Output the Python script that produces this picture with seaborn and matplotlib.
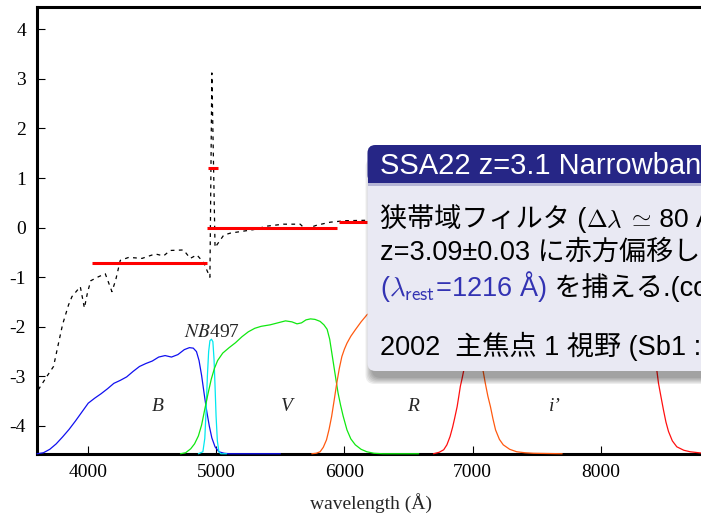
import matplotlib
matplotlib.use("Agg")
import matplotlib.pyplot as plt
import seaborn as sns
import pandas as pd
from matplotlib.patches import FancyBboxPatch, Rectangle
from matplotlib.transforms import IdentityTransform

# ---------------------------------------------------------------- data
# Filter transmission curves, drawn in the lower part of the panel
b_wl = [3600, 3650, 3700, 3750, 3800, 3850, 3900, 3950, 4000, 4050, 4100,
        4150, 4200, 4250, 4300, 4350, 4400, 4450, 4500, 4550, 4600, 4650,
        4700, 4750, 4790, 4820, 4845, 4865, 4885, 4905, 4925, 4945, 4965,
        4990, 5020, 5060, 5100, 5500]
b_lv = [-4.56, -4.54, -4.47, -4.36, -4.22, -4.07, -3.90, -3.72, -3.54, -3.44,
        -3.35, -3.25, -3.14, -3.08, -3.01, -2.90, -2.80, -2.74, -2.69, -2.61,
        -2.58, -2.61, -2.56, -2.46, -2.42, -2.43, -2.50, -2.68, -2.98, -3.35,
        -3.70, -4.00, -4.24, -4.42, -4.52, -4.55, -4.56, -4.56]

nb_wl = [4860, 4895, 4910, 4920, 4930, 4940, 4950, 4962, 4973, 4982, 4990,
         4998, 5008, 5020, 5035, 5080]
nb_lv = [-4.56, -4.52, -4.25, -3.70, -3.00, -2.50, -2.28, -2.25, -2.30, -2.65,
         -3.20, -3.80, -4.30, -4.52, -4.56, -4.56]

v_wl = [4720, 4760, 4800, 4830, 4860, 4885, 4910, 4935, 4960, 4985, 5010,
        5050, 5100, 5150, 5200, 5250, 5300, 5350, 5420, 5480, 5540, 5590,
        5630, 5665, 5700, 5735, 5770, 5810, 5840, 5865, 5885, 5900, 5915,
        5930, 5950, 5970, 5990, 6020, 6050, 6085, 6130, 6175, 6230, 6300, 6580]
v_lv = [-4.56, -4.54, -4.46, -4.36, -4.20, -3.98, -3.66, -3.35, -3.06, -2.84,
        -2.68, -2.53, -2.42, -2.32, -2.20, -2.10, -2.03, -1.99, -1.96, -1.92,
        -1.88, -1.90, -1.94, -1.92, -1.86, -1.84, -1.85, -1.89, -1.96, -2.05,
        -2.25, -2.50, -2.75, -3.00, -3.33, -3.58, -3.80, -4.08, -4.26, -4.38,
        -4.47, -4.52, -4.55, -4.56, -4.56]

r_wl = [5745, 5780, 5810, 5835, 5860, 5880, 5900, 5920, 5940, 5960, 5980,
        6000, 6020, 6050, 6085, 6130, 6175, 6250, 6350, 6500, 6650, 6800,
        6900, 6980, 7030, 7060, 7080, 7100, 7120, 7140, 7160, 7180, 7210,
        7240, 7290, 7345, 7410, 7475, 7700]
r_lv = [-4.56, -4.55, -4.52, -4.43, -4.28, -4.07, -3.81, -3.48, -3.14, -2.84,
        -2.60, -2.45, -2.33, -2.19, -2.06, -1.90, -1.76, -1.62, -1.52, -1.45,
        -1.45, -1.52, -1.62, -1.85, -2.20, -2.55, -2.85, -3.14, -3.40, -3.61,
        -3.86, -4.08, -4.27, -4.38, -4.47, -4.52, -4.54, -4.55, -4.56]

i_wl = [6695, 6740, 6775, 6800, 6825, 6845, 6860, 6880, 6893, 6905, 6918,
        6930, 6960, 7000, 7060, 7200, 7600, 8000, 8300, 8380, 8410, 8430,
        8452, 8472, 8491, 8510, 8530, 8560, 8595, 8650, 8700, 8800, 9000]
i_lv = [-4.56, -4.53, -4.48, -4.38, -4.21, -4.02, -3.85, -3.61, -3.40, -3.20,
        -3.05, -2.90, -2.35, -1.85, -1.55, -1.42, -1.40, -1.40, -1.55, -1.90,
        -2.30, -2.70, -3.14, -3.42, -3.68, -3.92, -4.11, -4.30, -4.42, -4.49,
        -4.52, -4.55, -4.56]

filter_names = ["B", "NB497", "V", "R", "i'"]
filter_colors = ["#1010f0", "#00e8f0", "#10e810", "#ff5a10", "#ff1010"]

# Model spectrum (dotted)
spec_wl = [3610, 3677, 3729, 3768, 3800, 3846, 3873, 3938, 3970, 3995, 4020,
           4080, 4133, 4185, 4215, 4250, 4316, 4420, 4523, 4588, 4640, 4744,
           4796, 4848, 4900, 4950, 4965, 4990, 5058, 5110, 5187, 5290, 5394,
           5524, 5655, 5694, 5785, 5889, 6006, 6200, 6500]
spec_fl = [-3.27, -3.00, -2.80, -2.33, -1.95, -1.56, -1.39, -1.19, -1.62, -1.30,
           -1.07, -0.99, -0.93, -1.29, -1.05, -0.66, -0.60, -0.62, -0.53, -0.57,
           -0.46, -0.45, -0.62, -0.55, -0.70, -1.00, 3.12, -0.40, -0.15, -0.11,
           -0.08, -0.04, 0.03, 0.07, 0.07, -0.03, 0.05, 0.11, 0.14, 0.15, 0.15]

# Band-averaged levels (red bars)
band_lo = [4029, 4935, 4930, 5955]
band_hi = [4927, 5012, 5940, 7100]
band_lv = [-0.72, 1.20, 0.0, 0.12]

# Band labels
lab_text = ["B", "V", "R", "i\u2019"]
lab_x = [4544, 5550, 6539, 7646]
lab_y = [-3.70, -3.70, -3.70, -3.70]

x_ticks = [4000, 5000, 6000, 7000, 8000]
y_ticks = [-4, -3, -2, -1, 0, 1, 2, 3, 4]

# ---------------------------------------------------------------- style
sns.set_theme(style="ticks")
plt.rcParams["font.family"] = ["Liberation Serif", "DejaVu Serif"]
plt.rcParams["axes.unicode_minus"] = False
plt.rcParams["mathtext.fontset"] = "stix"

W, H = 701, 514
fig = plt.figure(figsize=(W / 100, H / 100), dpi=100)
fig.patch.set_facecolor("white")
ax = fig.add_axes([37 / W, 60 / H, 668 / W, 447 / H])
ax.set_facecolor("white")

# filter curves
curves = [(b_wl, b_lv), (nb_wl, nb_lv), (v_wl, v_lv), (r_wl, r_lv), (i_wl, i_lv)]
frames = []
for name, (wl, lv) in zip(filter_names, curves):
    frames.append(pd.DataFrame({"wavelength": wl, "level": lv, "filter": name}))
filters = pd.concat(frames, ignore_index=True)
for name, color in zip(filter_names, filter_colors):
    sub = filters[filters["filter"] == name]
    sns.lineplot(data=sub, x="wavelength", y="level", ax=ax, color=color,
                 lw=0.9, estimator=None, sort=False, zorder=3, clip_on=False)

# spectrum
sns.lineplot(x=spec_wl, y=spec_fl, ax=ax, color="black", lw=0.9,
             linestyle=(0, (3.0, 3.5)), estimator=None, sort=False, zorder=4)

# band-averaged levels
ax.hlines(band_lv, band_lo, band_hi, colors="#ff0000", lw=2.2, zorder=5)

# band labels
for s, x, y in zip(lab_text, lab_x, lab_y):
    ax.text(x, y, s, fontsize=14, fontstyle="italic", ha="center",
            va="baseline", family="Liberation Serif")
ax.text(4968, -2.21, "$NB$497", fontsize=14, ha="center", va="baseline",
        family="Liberation Serif", math_fontfamily="stix")

ax.set_xlim(3600, 8815)
ax.set_ylim(-4.565, 4.45)
ax.set_xticks(x_ticks)
ax.set_yticks(y_ticks)
ax.set_xlabel("wavelength (\u00c5)", fontsize=14, labelpad=9)
ax.set_ylabel("")
ax.tick_params(direction="in", length=6, width=0.8, labelsize=14,
               colors="black")
ax.tick_params(axis="y", pad=8)
ax.tick_params(axis="x", pad=7)
for side in ["left", "bottom", "top", "right"]:
    ax.spines[side].set_linewidth(2.2)
    ax.spines[side].set_color("black")
    ax.spines[side].set_visible(True)

# ---------------------------------------------------------------- info box
ident = IdentityTransform()
box_x, box_w = 367.5, 420
box_top, box_bot, head_bot = 369, 143, 331

for k in range(6):
    grow = k * 1.2
    fig.add_artist(FancyBboxPatch(
        (box_x + 4 - grow, box_bot - 7 - grow), box_w, box_top - box_bot,
        boxstyle="round,pad=0,rounding_size=9", transform=ident,
        fc="black", ec="none", alpha=0.07))
fig.add_artist(FancyBboxPatch(
    (box_x, box_bot), box_w, box_top - box_bot,
    boxstyle="round,pad=0,rounding_size=8", transform=ident,
    fc="#e9e9f3", ec="none"))
fig.add_artist(FancyBboxPatch(
    (box_x, head_bot), box_w, box_top - head_bot,
    boxstyle="round,pad=0,rounding_size=8", transform=ident,
    fc="#262686", ec="none"))
fig.add_artist(Rectangle((box_x, head_bot), box_w, 12, transform=ident,
                         fc="#262686", ec="none"))
fig.add_artist(Rectangle((box_x, head_bot - 3), box_w, 3, transform=ident,
                         fc="#b4b4d4", ec="none"))

sans = dict(family=["Liberation Sans", "Noto Sans CJK JP"], fontsize=19.5,
            color="black")
blue = dict(sans, color="#3333b3", math_fontfamily="cm")
math = dict(fontsize=18, color="black", math_fontfamily="cm")


def write_run(pieces, x, y):
    renderer = fig.canvas.get_renderer()
    for s, kw in pieces:
        t = fig.text(x, y, s, transform=ident, ha="left", va="baseline", **kw)
        x = t.get_window_extent(renderer).x1


fig.text(380, 340, "SSA22 z=3.1 Narrowband Imaging", transform=ident,
         ha="left", va="baseline", family="Liberation Sans", fontsize=21,
         color="white")
write_run([("狭帯域フィルタ (", sans), (r"$\Delta\lambda\;\simeq$", math),
           (" 80 Å) で，", dict(sans, fontsize=19))], 380, 287)
write_run([("z=3.09±0.03 に赤方偏移した Lyα 輝線", sans)], 380, 254.5)
write_run([(r"($\lambda_{\mathsf{rest}}$=1216 Å)", blue),
           (" を捕える.(cont.)", sans)], 380, 218)
write_run([("2002  主焦点 1 視野 (Sb1 : 1 夜)", sans)], 380, 159)

fig.savefig("out.png", dpi=100)
